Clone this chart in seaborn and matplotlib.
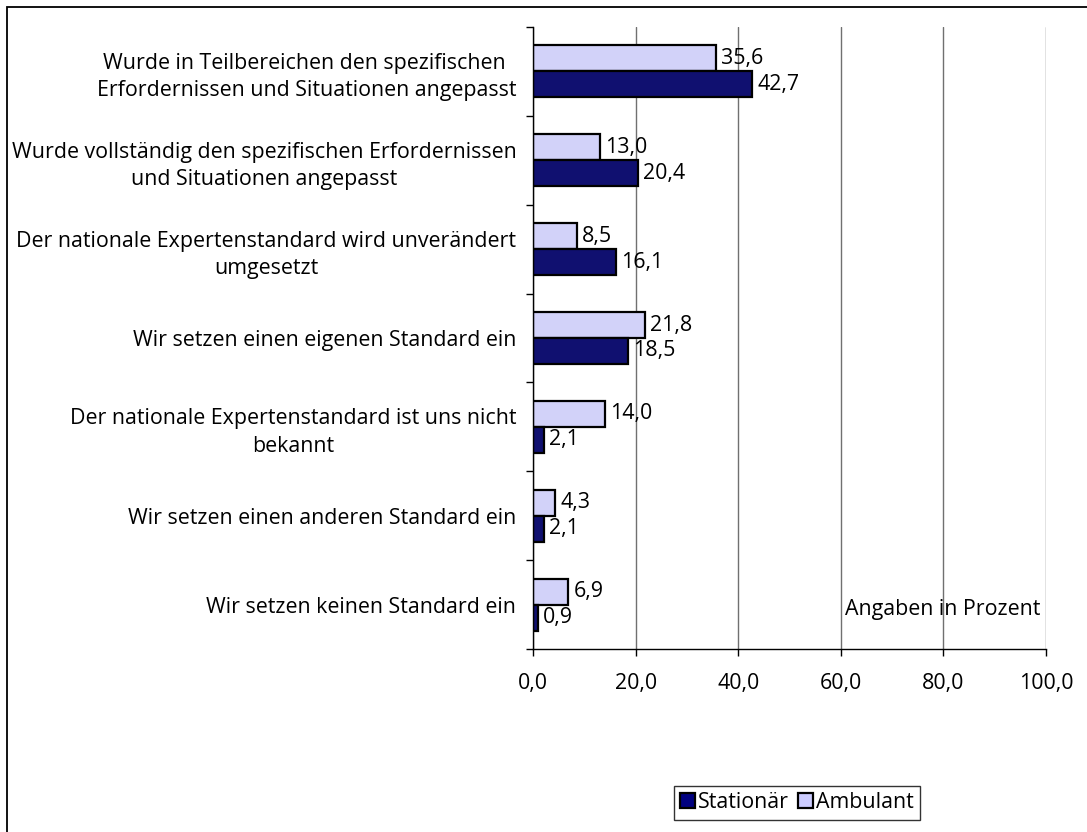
import numpy as np
import pandas as pd
import matplotlib
matplotlib.use("Agg")
import matplotlib.pyplot as plt
from matplotlib.patches import Patch, Rectangle
import seaborn as sns

# Daten
kategorien = [
    "Wurde in Teilbereichen den spezifischen \nErfordernissen und Situationen angepasst",
    "Wurde vollständig den spezifischen Erfordernissen\nund Situationen angepasst",
    "Der nationale Expertenstandard wird unverändert\numgesetzt",
    "Wir setzen einen eigenen Standard ein",
    "Der nationale Expertenstandard ist uns nicht\nbekannt",
    "Wir setzen einen anderen Standard ein",
    "Wir setzen keinen Standard ein",
]
ambulant = [35.6, 13.0, 8.5, 21.8, 14.0, 4.3, 6.9]
stationaer = [42.7, 20.4, 16.1, 18.5, 2.1, 2.1, 0.9]
x_ticks = [0, 20, 40, 60, 80, 100]

df = pd.DataFrame({
    "kategorie": kategorien * 2,
    "wert": ambulant + stationaer,
    "gruppe": ["Ambulant"] * len(kategorien) + ["Stationär"] * len(kategorien),
})

farben = {"Ambulant": "#CCCCFF", "Stationär": "#000080"}

sns.set_theme(style="white")
plt.rcParams["font.family"] = ["Open Sans", "DejaVu Sans"]
plt.rcParams["text.color"] = "black"
plt.rcParams["xtick.color"] = "black"
plt.rcParams["ytick.color"] = "black"
plt.rcParams["axes.labelcolor"] = "black"
fs = 15.4

fig = plt.figure(figsize=(10.87, 8.32), dpi=100)
ax = fig.add_axes([533 / 1087, 1 - 649 / 832, (1046 - 533) / 1087, (649 - 27) / 832])

sns.barplot(data=df, y="kategorie", x="wert", hue="gruppe",
            hue_order=["Ambulant", "Stationär"], palette=farben,
            orient="h", width=0.585, edgecolor="black", linewidth=1.6,
            legend=False, ax=ax)

# Wertebeschriftung
for cont in ax.containers:
    labels = [f"{v:.1f}".replace(".", ",") for v in cont.datavalues]
    ax.bar_label(cont, labels=labels, padding=4, fontsize=fs, color="black")

ax.set_xlim(0, 100)
ax.set_ylim(6.5, -0.5)
ax.set_xticks(x_ticks)
ax.set_xticklabels([f"{v:.1f}".replace(".", ",") for v in x_ticks], fontsize=fs)
ax.set_yticks(range(len(kategorien)))
ax.set_yticklabels(kategorien, fontsize=fs)
for t in ax.get_yticklabels():
    t.set_multialignment("center")
    t.set_linespacing(1.4)
ax.set_xlabel("")
ax.set_ylabel("")

ax.set_yticks(np.arange(-0.5, len(kategorien), 1), minor=True)
ax.tick_params(axis="y", which="major", length=0, pad=12)
ax.tick_params(axis="y", which="minor", length=5, width=1, color="black", direction="out", left=True)
ax.tick_params(axis="x", which="major", length=5, width=1, color="black", direction="out", bottom=True, pad=12)

ax.xaxis.grid(True, color="#707070", linewidth=1)
ax.yaxis.grid(False)
ax.set_axisbelow(True)
for s in ["top", "right"]:
    ax.spines[s].set_visible(False)
for s in ["left", "bottom"]:
    ax.spines[s].set_color("black")
    ax.spines[s].set_linewidth(1)

ax.text(99, 6.05, "Angaben in Prozent", ha="right", va="center", fontsize=fs)

handles = [Patch(facecolor=farben["Stationär"], edgecolor="black", linewidth=1.6),
           Patch(facecolor=farben["Ambulant"], edgecolor="black", linewidth=1.6)]
leg = fig.legend(handles, ["Stationär", "Ambulant"], loc="upper right",
                 bbox_to_anchor=(920 / 1087, 1 - 786 / 832), ncol=2,
                 fontsize=fs, frameon=True, fancybox=False, shadow=False,
                 handlelength=0.7, handleheight=0.7, handletextpad=0.15,
                 columnspacing=0.4, borderpad=0.3, borderaxespad=0)
leg.get_frame().set_edgecolor("black")
leg.get_frame().set_linewidth(1)

# Rahmen um die Grafik
fig.patches.append(Rectangle((7 / 1087, -0.1), 1.2, 1 - 7 / 832 + 0.1,
                             transform=fig.transFigure, fill=False,
                             edgecolor="black", linewidth=1.3))

fig.savefig("out.png", dpi=100)
